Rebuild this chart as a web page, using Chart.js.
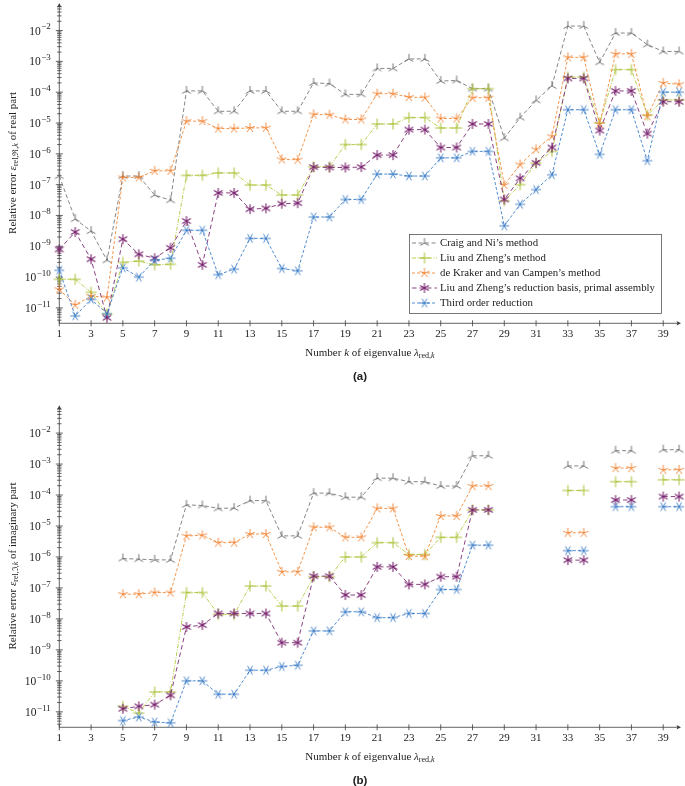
<!DOCTYPE html>
<html>
<head>
<meta charset="utf-8">
<script src="https://cdn.jsdelivr.net/npm/chart.js@4.4.1/dist/chart.umd.min.js"></script>
<style>
body { margin: 0; background: #fff; }
#wrap { position: relative; width: 685px; height: 786px; overflow: hidden; font-family: "Liberation Serif", "DejaVu Serif", serif; color: #222; }
canvas { position: absolute; left: 0; }
.lbl { position: absolute; white-space: nowrap; font-size: 11px; transform: translate(-50%, -50%); }
.rot { transform: translate(-50%, -50%) rotate(-90deg); }
.cap { position: absolute; font-family: "Liberation Sans", Arial, sans-serif; font-weight: bold; font-size: 11.5px; transform: translate(-50%, -50%); }
sub { font-size: 8px; vertical-align: -2px; line-height: 0; }
</style>
</head>
<body>
<div id="wrap">
  <canvas id="chartA" width="685" height="390" style="top:0"></canvas>
  <canvas id="chartB" width="685" height="396" style="top:390px"></canvas>
  <div class="lbl rot" style="left:12px; top:163px">Relative error <i>ε</i><sub>rel,ℜ,<i>k</i></sub> of real part</div>
  <div class="lbl" style="left:370px; top:352px">Number <i>k</i> of eigenvalue <i>λ</i><sub>red,<i>k</i></sub></div>
  <div class="cap" style="left:360px; top:376px">(a)</div>
  <div class="lbl rot" style="left:12px; top:566px">Relative error <i>ε</i><sub>rel,ℑ,<i>k</i></sub> of imaginary part</div>
  <div class="lbl" style="left:370px; top:756px">Number <i>k</i> of eigenvalue <i>λ</i><sub>red,<i>k</i></sub></div>
  <div class="cap" style="left:360px; top:780px">(b)</div>
</div>
<script>
// eigenvalue numbers k
var labels = [1, 2, 3, 4, 5, 6, 7, 8, 9, 10, 11, 12, 13, 14, 15, 16, 17, 18, 19, 20,
              21, 22, 23, 24, 25, 26, 27, 28, 29, 30, 31, 32, 33, 34, 35, 36, 37, 38, 39, 40];
var xTickLabels = [1, 3, 5, 7, 9, 11, 13, 15, 17, 19, 21, 23, 25, 27, 29, 31, 33, 35, 37, 39];
var yTickExp = [-11, -10, -9, -8, -7, -6, -5, -4, -3, -2];

// (a) real part
var craigRe = [1.9e-7, 7.6e-9, 3.1e-9, 3.5e-10, 1.9e-7, 1.9e-7, 4.6e-8, 3.1e-8, 1.1e-4, 1.1e-4,
               2.4e-5, 2.4e-5, 1.1e-4, 1.1e-4, 2.4e-5, 2.4e-5, 2.0e-4, 1.9e-4, 8.5e-5, 8.5e-5,
               5.9e-4, 5.9e-4, 1.2e-3, 1.2e-3, 2.3e-4, 2.4e-4, 1.3e-4, 1.3e-4, 3.2e-6, 1.5e-5,
               5.4e-5, 1.6e-4, 1.4e-2, 1.4e-2, 9.3e-4, 8.3e-3, 8.3e-3, 3.5e-3, 2.1e-3, 2.1e-3];
var liuRe = [8.5e-11, 8.5e-11, 3.2e-11, 6.3e-12, 3.0e-10, 3.3e-10, 2.5e-10, 2.6e-10, 2.0e-7, 2.0e-7,
             2.4e-7, 2.4e-7, 9.7e-8, 9.7e-8, 4.6e-8, 4.6e-8, 3.8e-7, 3.8e-7, 2.0e-6, 2.0e-6,
             9.3e-6, 9.3e-6, 1.5e-5, 1.5e-5, 6.9e-6, 6.9e-6, 1.3e-4, 1.3e-4, 3.0e-8, 1.0e-7,
             5.0e-7, 1.2e-6, 3.1e-4, 3.1e-4, 1.0e-5, 5.4e-4, 5.4e-4, 1.8e-5, 5.6e-5, 5.6e-5];
var dekRe = [4.0e-11, 1.25e-11, 2.4e-11, 2.2e-11, 1.7e-7, 1.7e-7, 2.8e-7, 2.8e-7, 1.15e-5, 1.15e-5,
             6.6e-6, 6.6e-6, 6.9e-6, 7.0e-6, 6.6e-7, 6.4e-7, 1.9e-5, 1.85e-5, 1.3e-5, 1.3e-5,
             8.9e-5, 8.9e-5, 6.9e-5, 6.7e-5, 1.4e-5, 1.4e-5, 6.6e-5, 6.6e-5, 9.7e-8, 4.5e-7,
             1.4e-6, 3.7e-6, 1.35e-3, 1.35e-3, 9.3e-6, 1.75e-3, 1.75e-3, 1.66e-5, 2.0e-4, 1.8e-4];
var liuPrimRe = [7.9e-10, 2.9e-9, 3.8e-10, 4.8e-12, 1.7e-9, 5.5e-10, 4.1e-10, 8.9e-10, 6.6e-9, 2.5e-10,
                 5.4e-8, 5.4e-8, 1.6e-8, 1.7e-8, 2.4e-8, 2.5e-8, 3.7e-7, 3.6e-7, 3.6e-7, 3.7e-7,
                 9.1e-7, 9.1e-7, 6.1e-6, 6.1e-6, 1.6e-6, 1.6e-6, 9.3e-6, 9.3e-6, 3.3e-8, 1.6e-7,
                 5.1e-7, 1.6e-6, 2.8e-4, 2.8e-4, 5.7e-6, 1.1e-4, 1.1e-4, 4.5e-6, 4.9e-5, 4.9e-5];
var thirdRe = [1.66e-10, 5.5e-12, 1.9e-11, 6.5e-12, 2.0e-10, 1.0e-10, 3.5e-10, 4.1e-10, 3.3e-9, 3.3e-9,
               1.2e-10, 1.8e-10, 1.8e-9, 1.8e-9, 1.9e-10, 1.6e-10, 8.9e-9, 8.9e-9, 3.3e-8, 3.3e-8,
               2.2e-7, 2.2e-7, 1.9e-7, 1.9e-7, 7.4e-7, 7.4e-7, 1.2e-6, 1.2e-6, 4.6e-9, 2.3e-8,
               6.9e-8, 2.1e-7, 2.7e-5, 2.7e-5, 9.6e-7, 2.7e-5, 2.7e-5, 6.0e-7, 1.0e-4, 1.0e-4];

// (b) imaginary part
var craigIm = [null, null, null, null, 8.9e-7, 8.5e-7, 8.1e-7, 8.0e-7, 4.8e-5, 4.6e-5,
               3.7e-5, 3.8e-5, 6.6e-5, 6.6e-5, 4.8e-6, 4.8e-6, 1.15e-4, 1.15e-4, 8.5e-5, 8.5e-5,
               3.5e-4, 3.5e-4, 2.7e-4, 2.7e-4, 1.95e-4, 1.95e-4, 1.85e-3, 1.85e-3, null, null,
               null, null, 8.7e-4, 8.7e-4, null, 2.7e-3, 2.7e-3, null, 2.9e-3, 2.9e-3];
var liuIm = [null, null, null, null, 1.5e-11, 9.1e-12, 4.4e-11, 4.4e-11, 7.1e-8, 7.1e-8,
             1.4e-8, 1.4e-8, 1.15e-7, 1.15e-7, 2.6e-8, 2.6e-8, 2.3e-7, 2.3e-7, 1.0e-6, 1.0e-6,
             2.9e-6, 2.9e-6, 1.2e-6, 1.2e-6, 4.3e-6, 4.3e-6, 3.3e-5, 3.3e-5, null, null,
             null, null, 1.4e-4, 1.4e-4, null, 2.7e-4, 2.7e-4, null, 3.1e-4, 3.1e-4];
var dekIm = [null, null, null, null, 6.3e-8, 6.3e-8, 7.1e-8, 7.1e-8, 4.8e-6, 5.0e-6,
             2.9e-6, 2.9e-6, 5.5e-6, 5.5e-6, 3.3e-7, 3.3e-7, 9.1e-6, 9.1e-6, 4.3e-6, 4.3e-6,
             3.7e-5, 3.7e-5, 1.07e-6, 1.05e-6, 2.1e-5, 2.1e-5, 1.95e-4, 1.95e-4, null, null,
             null, null, 6.0e-6, 6.0e-6, null, 7.4e-4, 7.4e-4, null, 6.5e-4, 6.5e-4];
var liuPrimIm = [null, null, null, null, 1.26e-11, 1.5e-11, 1.7e-11, 3.4e-11, 5.5e-9, 6.3e-9,
                 1.5e-8, 1.5e-8, 1.5e-8, 1.5e-8, 1.7e-9, 1.7e-9, 2.4e-7, 2.4e-7, 5.9e-8, 5.9e-8,
                 4.8e-7, 4.8e-7, 1.3e-7, 1.3e-7, 2.3e-7, 2.3e-7, 3.3e-5, 3.3e-5, null, null,
                 null, null, 7.9e-7, 7.9e-7, null, 6.9e-5, 6.9e-5, null, 8.9e-5, 8.9e-5];
var thirdIm = [null, null, null, null, 5.2e-12, 6.8e-12, 4.7e-12, 4.4e-12, 1.0e-10, 1.0e-10,
               3.7e-11, 3.7e-11, 2.2e-10, 2.2e-10, 2.9e-10, 3.2e-10, 4.1e-9, 4.1e-9, 1.7e-8, 1.7e-8,
               1.1e-8, 1.1e-8, 1.5e-8, 1.5e-8, 8.9e-8, 8.9e-8, 2.4e-6, 2.4e-6, null, null,
               null, null, 1.6e-6, 1.6e-6, null, 4.2e-5, 4.2e-5, null, 4.2e-5, 4.2e-5];

// small spoke markers like the pgfplots ones
function marker(color, angles, r, lw) {
    var c = document.createElement('canvas');
    c.width = 14; c.height = 14;
    var g = c.getContext('2d');
    g.strokeStyle = color;
    g.lineWidth = lw;
    g.beginPath();
    angles.forEach(function (d) {
        var t = d * Math.PI / 180;
        g.moveTo(7, 7);
        g.lineTo(7 + r * Math.cos(t), 7 + r * Math.sin(t));
    });
    g.stroke();
    return c;
}

var series = [
    { label: 'Craig and Ni’s method', color: '#777777', dash: [4, 2.5],
      mark: marker('#666666', [-90, 30, 150], 5, 0.9), re: craigRe, im: craigIm },
    { label: 'Liu and Zheng’s method', color: '#b3c73c', dash: [4, 1.5, 1, 1.5],
      mark: marker('#a9bf32', [0, 90, 180, 270], 5.5, 1), re: liuRe, im: liuIm },
    { label: 'de Kraker and van Campen’s method', color: '#f28a38', dash: [3, 2],
      mark: marker('#f08030', [-90, -18, 54, 126, 198], 5, 0.9), re: dekRe, im: dekIm },
    { label: 'Liu and Zheng’s reduction basis, primal assembly', color: '#7d2c74', dash: [4.5, 3],
      mark: marker('#7a2470', [-90, -30, 30, 90, 150, 210], 5, 1.1), re: liuPrimRe, im: liuPrimIm },
    { label: 'Third order reduction', color: '#3d7fc9', dash: [3, 2],
      mark: marker('#3a7cc6', [0, 60, 120, 180, 240, 300], 5, 0.9), re: thirdRe, im: thirdIm }
];

var axisColor = '#3c3c3c';

var axesPlugin = {
    id: 'axes',
    beforeDatasetsDraw: function (chart) {
        var ctx = chart.ctx, a = chart.chartArea, x = chart.scales.x, y = chart.scales.y;
        var x0 = a.left, y0 = a.bottom;
        ctx.save();
        ctx.strokeStyle = axisColor;
        ctx.fillStyle = axisColor;
        ctx.lineWidth = 0.8;
        ctx.beginPath();
        ctx.moveTo(x0, y0); ctx.lineTo(x0, a.top - 1);
        ctx.moveTo(x0, y0); ctx.lineTo(678, y0);
        ctx.stroke();
        // arrow heads
        ctx.beginPath();
        ctx.moveTo(x0, a.top - 3); ctx.lineTo(x0 - 2.2, a.top + 1.5); ctx.lineTo(x0, a.top + 0.5); ctx.lineTo(x0 + 2.2, a.top + 1.5);
        ctx.closePath(); ctx.fill();
        ctx.beginPath();
        ctx.moveTo(681, y0); ctx.lineTo(676.5, y0 - 2.2); ctx.lineTo(677.5, y0); ctx.lineTo(676.5, y0 + 2.2);
        ctx.closePath(); ctx.fill();
        // y ticks, major and minor
        ctx.beginPath();
        for (var e = -12; e <= -1; e++) {
            for (var m = 1; m <= 9; m++) {
                var v = m * Math.pow(10, e);
                if (v < y.min || v > y.max) continue;
                var py = y.getPixelForValue(v);
                var len = m === 1 ? 3.5 : 2.2;
                ctx.moveTo(x0 - len, py); ctx.lineTo(x0 + len, py);
            }
        }
        // x ticks
        xTickLabels.forEach(function (k) {
            var px = x.getPixelForValue(labels.indexOf(k));
            ctx.moveTo(px, y0 - 3); ctx.lineTo(px, y0 + 3);
        });
        ctx.stroke();
        // labels
        ctx.fillStyle = '#222';
        ctx.textBaseline = 'middle';
        ctx.font = '11px "Liberation Serif", serif';
        ctx.textAlign = 'center';
        xTickLabels.forEach(function (k) {
            ctx.fillText(String(k), x.getPixelForValue(labels.indexOf(k)), y0 + 11);
        });
        ctx.textAlign = 'left';
        yTickExp.forEach(function (n) {
            var py = y.getPixelForValue(Math.pow(10, n));
            var sup = '\u2212' + Math.abs(n);
            ctx.font = '9px "Liberation Serif", serif';
            var ws = ctx.measureText(sup).width;
            ctx.font = '11.5px "Liberation Serif", serif';
            var wb = ctx.measureText('10').width;
            var right = x0 - 8.5;
            ctx.fillText('10', right - ws - wb - 0.5, py + 1);
            ctx.font = '9px "Liberation Serif", serif';
            ctx.fillText(sup, right - ws, py - 3.5);
        });
        ctx.restore();
    }
};

var legendPlugin = {
    id: 'boxLegend',
    afterDatasetsDraw: function (chart) {
        var ctx = chart.ctx;
        ctx.save();
        ctx.fillStyle = '#fff';
        ctx.fillRect(409.5, 234.5, 252, 79);
        ctx.strokeStyle = '#555';
        ctx.lineWidth = 0.8;
        ctx.strokeRect(409.5, 234.5, 252, 79);
        ctx.font = '10.8px "Liberation Serif", serif';
        ctx.textBaseline = 'middle';
        series.forEach(function (s, i) {
            var ly = 243 + i * 15;
            ctx.strokeStyle = s.color;
            ctx.lineWidth = 0.9;
            ctx.setLineDash(s.dash);
            ctx.beginPath(); ctx.moveTo(412, ly); ctx.lineTo(437, ly); ctx.stroke();
            ctx.setLineDash([]);
            ctx.drawImage(s.mark, 424.5 - 7, ly - 7);
            ctx.fillStyle = '#222';
            ctx.fillText(s.label, 440, ly);
        });
        ctx.restore();
    }
};

function makeChart(id, key, padTop, padBottom, plugins) {
    return new Chart(document.getElementById(id), {
        type: 'line',
        data: {
            labels: labels,
            datasets: series.map(function (s, i) {
                return {
                    label: s.label,
                    data: s[key],
                    borderColor: s.color,
                    borderWidth: 0.9,
                    borderDash: s.dash,
                    pointStyle: s.mark,
                    pointRadius: 5,
                    tension: 0,
                    spanGaps: false,
                    clip: false,
                    order: series.length - i
                };
            })
        },
        options: {
            responsive: false,
            animation: false,
            layout: { padding: { left: 59.3, right: 1.7, top: padTop, bottom: padBottom } },
            scales: {
                x: { type: 'category', display: false },
                y: { type: 'logarithmic', display: false, min: Math.pow(10, -11.5), max: Math.pow(10, -1.2) }
            },
            plugins: { legend: { display: false }, tooltip: { enabled: false } }
        },
        plugins: plugins
    });
}

var chartA = makeChart('chartA', 're', 4.7, 66.7, [axesPlugin, legendPlugin]);
var chartB = makeChart('chartB', 'im', 18.3, 58.7, [axesPlugin]);
</script>
</body>
</html>
